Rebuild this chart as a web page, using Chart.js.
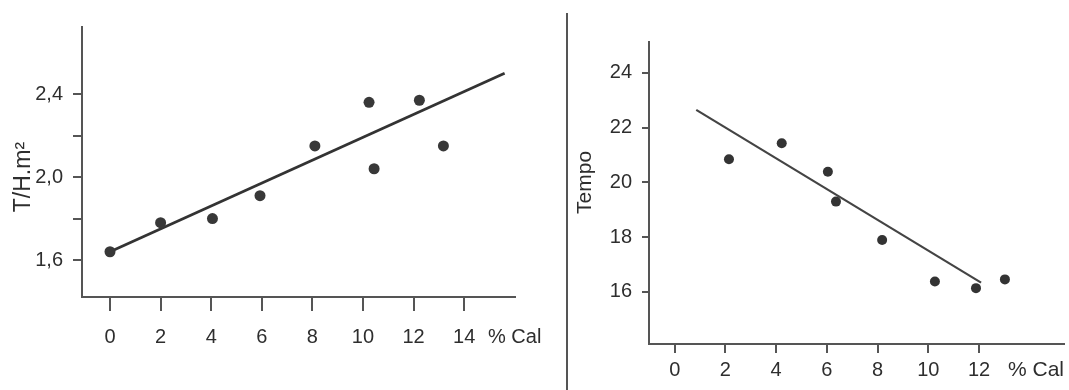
<!DOCTYPE html>
<html>
<head>
<meta charset="utf-8">
<script src="https://cdn.jsdelivr.net/npm/chart.js@4/dist/chart.umd.min.js"></script>
<style>
  html, body { margin: 0; padding: 0; background: #fff; }
  #wrap { position: relative; width: 1069px; height: 390px; overflow: hidden; }
  #wrap canvas { position: absolute; top: 0; }
  #left { left: 0; }
  #right { left: 540px; }
  #divider { position: absolute; left: 566px; top: 13px; width: 2px; height: 377px; background: #555; }
</style>
</head>
<body>
<div id="wrap">
  <canvas id="left" width="565" height="390"></canvas>
  <canvas id="right" width="529" height="390"></canvas>
  <div id="divider"></div>
</div>
<script>
// Rendimento (T/H.m²) x teor de cal
const calA = [0, 2, 4.05, 5.93, 8.1, 10.24, 10.44, 12.23, 13.18]
const rendA = [1.64, 1.78, 1.80, 1.91, 2.15, 2.36, 2.04, 2.37, 2.15]
const fitCalA = [0, 15.6]
const fitRendA = [1.64, 2.5]
const xTicksA = [0, 2, 4, 6, 8, 10, 12, 14]
const yTicksA = [1.6, 1.8, 2.0, 2.2, 2.4]
const yLabelsA = ['1,6', '', '2,0', '', '2,4']

// Tempo x teor de cal
const calB = [2.14, 4.22, 6.04, 6.36, 8.18, 10.26, 11.88, 13.02]
const tempoB = [20.85, 21.43, 20.39, 19.30, 17.90, 16.38, 16.14, 16.46]
const fitCalB = [0.85, 12.08]
const fitTempoB = [22.65, 16.34]
const xTicksB = [0, 2, 4, 6, 8, 10, 12]
const yTicksB = [16, 18, 20, 22, 24]

const textColor = '#2e2e2e'
const axisColor = '#555'
const fontFamily = '"Liberation Sans", Arial, sans-serif'

const toPoints = (xs, ys) => xs.map((x, i) => ({ x: x, y: ys[i] }))

// rotated y title + unit text after the last x tick
const axisText = {
  id: 'axisText',
  afterDraw(chart, args, opts) {
    const { ctx, scales } = chart
    ctx.save()
    ctx.fillStyle = textColor
    ctx.font = opts.titleFont
    ctx.textAlign = 'center'
    ctx.textBaseline = 'middle'
    ctx.translate(opts.titleX, scales.y.getPixelForValue(opts.titleAt))
    ctx.rotate(-Math.PI / 2)
    ctx.fillText(opts.title, 0, 0)
    ctx.restore()

    ctx.save()
    ctx.fillStyle = textColor
    ctx.font = opts.unitFont
    ctx.textAlign = 'left'
    ctx.textBaseline = 'middle'
    ctx.fillText(opts.unit, opts.unitX, scales.x.top + opts.unitDy)
    ctx.restore()
  }
}

function makeChart(id, cfg) {
  const ctx = document.getElementById(id).getContext('2d')
  return new Chart(ctx, {
    type: 'scatter',
    data: {
      datasets: [
        {
          data: toPoints(cfg.xs, cfg.ys),
          backgroundColor: cfg.pointColor,
          borderColor: cfg.pointColor,
          pointRadius: cfg.pointRadius,
          borderWidth: 0,
        },
        {
          data: toPoints(cfg.fitX, cfg.fitY),
          showLine: true,
          borderColor: cfg.lineColor,
          borderWidth: cfg.lineWidth,
          pointRadius: 0,
        }
      ]
    },
    options: {
      responsive: false,
      animation: false,
      layout: { padding: cfg.padding },
      plugins: {
        legend: { display: false },
        tooltip: { enabled: false },
        axisText: cfg.text,
      },
      scales: {
        x: {
          type: 'linear',
          min: cfg.xMin,
          max: cfg.xMax,
          afterBuildTicks: (axis) => { axis.ticks = cfg.xTicks.map(v => ({ value: v })) },
          afterFit: (scale) => { scale.height = cfg.xHeight },
          border: { display: true, color: axisColor, width: 2 },
          grid: { drawOnChartArea: false, drawTicks: true, tickLength: cfg.xTickLen, color: axisColor, lineWidth: 2 },
          ticks: {
            autoSkip: false,
            maxRotation: 0,
            padding: cfg.xTickPad,
            color: textColor,
            font: { family: fontFamily, size: cfg.fontSize },
            callback: (value) => String(value),
          }
        },
        y: {
          type: 'linear',
          min: cfg.yMin,
          max: cfg.yMax,
          afterBuildTicks: (axis) => { axis.ticks = cfg.yTicks.map(v => ({ value: v })) },
          afterFit: (scale) => { scale.width = cfg.yWidth },
          border: { display: true, color: axisColor, width: 2 },
          grid: { drawOnChartArea: false, drawTicks: true, tickLength: cfg.yTickLen, color: axisColor, lineWidth: 2 },
          ticks: {
            autoSkip: false,
            padding: cfg.yTickPad,
            color: textColor,
            font: { family: fontFamily, size: cfg.fontSize },
            callback: cfg.yLabel,
          }
        }
      }
    },
    plugins: [axisText]
  })
}

makeChart('left', {
  xs: calA, ys: rendA, fitX: fitCalA, fitY: fitRendA,
  pointColor: '#383838', pointRadius: 5.5, lineColor: '#333', lineWidth: 2.8,
  padding: { left: 0, top: 27, right: 50, bottom: 0 },
  xMin: -1.107, xMax: 16.01, xTicks: xTicksA, xHeight: 93, xTickLen: 14, xTickPad: 14,
  yMin: 1.422, yMax: 2.723, yTicks: yTicksA, yWidth: 82, yTickLen: 9, yTickPad: 10,
  yLabel: (value) => yLabelsA[yTicksA.indexOf(value)] ?? '',
  fontSize: 20,
  text: {
    title: 'T/H.m²', titleAt: 2.0, titleX: 24, titleFont: '23px ' + fontFamily,
    unit: '% Cal', unitX: 488, unitDy: 40, unitFont: '20px ' + fontFamily,
  }
})

makeChart('right', {
  xs: calB, ys: tempoB, fitX: fitCalB, fitY: fitTempoB,
  pointColor: '#333', pointRadius: 5, lineColor: '#444', lineWidth: 2.2,
  padding: { left: 0, top: 42, right: 0, bottom: 0 },
  xMin: -1.013, xMax: 15.35, xTicks: xTicksB, xHeight: 46, xTickLen: 9, xTickPad: 5,
  yMin: 14.10, yMax: 25.13, yTicks: yTicksB, yWidth: 109, yTickLen: 7, yTickPad: 10,
  yLabel: (value) => String(value),
  fontSize: 20,
  text: {
    title: 'Tempo', titleAt: 20, titleX: 45, titleFont: '21px ' + fontFamily,
    unit: '% Cal', unitX: 468, unitDy: 26, unitFont: '21px ' + fontFamily,
  }
})
</script>
</body>
</html>
